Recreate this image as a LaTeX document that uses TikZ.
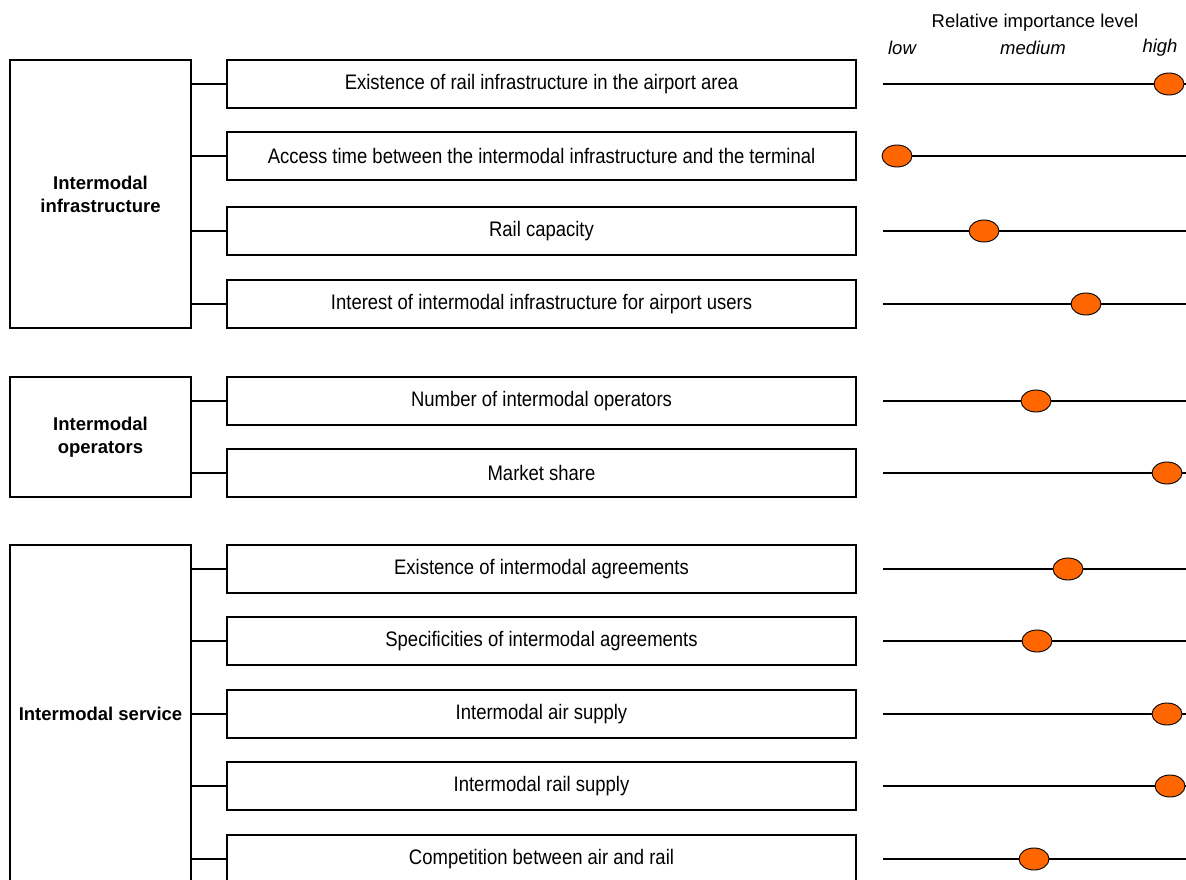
\documentclass[tikz,border=0pt]{standalone}
\usepackage{fontspec}
\setmainfont{Liberation Sans}
\newfontfamily\itemfamily[FakeStretch=0.88]{Liberation Sans}
\usetikzlibrary{shapes.geometric}
\definecolor{dotorange}{HTML}{FF6600}
\begin{document}
\begin{tikzpicture}[x=1pt,y=-1pt,
  txt/.style={font=\fontsize{18.5}{23}\selectfont},
  itx/.style={font=\fontsize{18.5}{23}\selectfont\itshape},
  grp/.style={draw, line width=1.8pt, align=center, inner sep=2pt, minimum width=181pt, font=\fontsize{18.5}{23}\selectfont\bfseries},
  itembox/.style={draw, line width=1.8pt, minimum width=629pt, minimum height=48pt, inner sep=0pt, font=\itemfamily\fontsize{21}{25}\selectfont},
  link/.style={line width=1.5pt},
  scaleline/.style={line width=1.6pt},
  dot/.style={ellipse, draw, line width=0.9pt, fill=dotorange, minimum width=30pt, minimum height=22pt, inner sep=0pt}
]
\useasboundingbox (0,0) rectangle (1186,880);
\clip (0,0) rectangle (1186,880);

% header
\node[txt] (title) at (1035,23) {Relative importance level};
\node[itx] (low) at (902,48) {low};
\node[itx] (med) at (1033,48) {medium};
\node[itx] (high) at (1160,48) {high};

% groups
\node[grp, minimum height=268pt] (g1) at (100.5,194) {Intermodal\\infrastructure};
\node[grp, minimum height=120pt] (g2) at (100.5,437) {Intermodal\\operators};
\node[grp, minimum height=338pt] (g3) at (100.5,714) {Intermodal service};

% items
\node[itembox] (i1) at (541.5,84) {Existence of rail infrastructure in the airport area};
\node[itembox] (i2) at (541.5,156) {Access time between the intermodal infrastructure and the terminal};
\node[itembox] (i3) at (541.5,231) {Rail capacity};
\node[itembox] (i4) at (541.5,304) {Interest of intermodal infrastructure for airport users};
\node[itembox] (i5) at (541.5,401) {Number of intermodal operators};
\node[itembox] (i6) at (541.5,473) {Market share};
\node[itembox] (i7) at (541.5,569) {Existence of intermodal agreements};
\node[itembox] (i8) at (541.5,641) {Specificities of intermodal agreements};
\node[itembox] (i9) at (541.5,714) {Intermodal air supply};
\node[itembox] (i10) at (541.5,786) {Intermodal rail supply};
\node[itembox] (i11) at (541.5,859) {Competition between air and rail};

% connectors
\foreach \i in {1,2,3,4} \draw[link] (g1.east |- i\i.west) -- (i\i.west);
\foreach \i in {5,6} \draw[link] (g2.east |- i\i.west) -- (i\i.west);
\foreach \i in {7,8,9,10,11} \draw[link] (g3.east |- i\i.west) -- (i\i.west);

% scales
\foreach \i/\y/\x in {1/84/1169, 2/156/897, 3/231/984, 4/304/1086, 5/401/1036, 6/473/1167, 7/569/1068, 8/641/1037, 9/714/1167, 10/786/1170, 11/859/1034} {
  \coordinate (l\i) at (883,\y);
  \coordinate (r\i) at (1187,\y);
  \draw[scaleline] (l\i) -- (r\i);
  \node[dot] (e\i) at (\x,\y) {};
}
\end{tikzpicture}
\end{document}
